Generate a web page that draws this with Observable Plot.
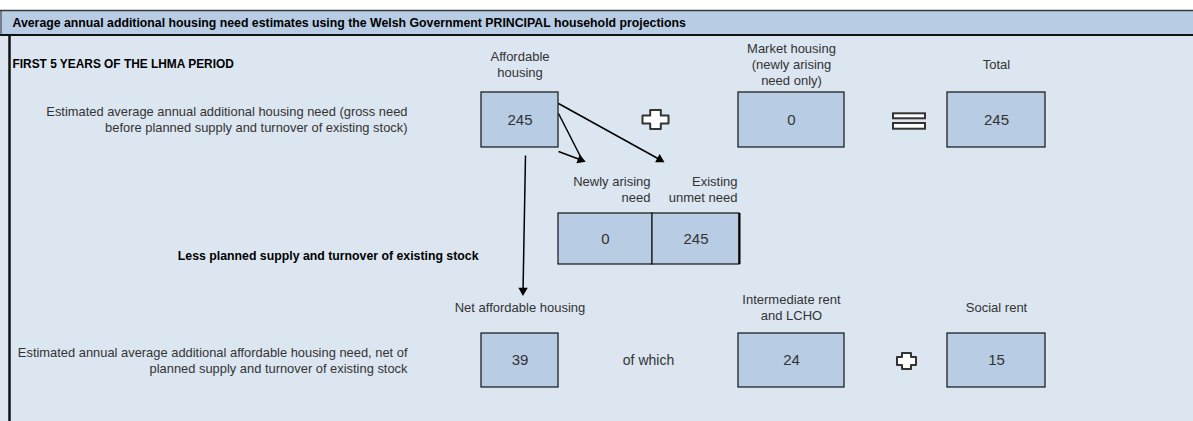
<!DOCTYPE html>
<html><head><meta charset="utf-8">
<script src="https://cdn.jsdelivr.net/npm/d3@7"></script>
<script src="https://cdn.jsdelivr.net/npm/@observablehq/plot@0.6"></script>
<style>html,body{margin:0;padding:0;background:#fff;overflow:hidden;} svg{display:block;}</style>
</head><body><div id="chart"></div>
<script>
// ---- data ----
const title = "Average annual additional housing need estimates using the Welsh Government PRINCIPAL household projections";
const periodLabel = "FIRST 5 YEARS OF THE LHMA PERIOD";
const grossCategories = ["Affordable\nhousing", "Market housing\n(newly arising\nneed only)", "Total"];
const grossValues = [245, 0, 245];
const splitCategories = ["Newly arising\nneed", "Existing\nunmet need"];
const splitValues = [0, 245];
const netCategories = ["Net affordable housing", "Intermediate rent\nand LCHO", "Social rent"];
const netValues = [39, 24, 15];
const rowLabels = [
  "Estimated average annual additional housing need (gross need\nbefore planned supply and turnover of existing stock)",
  "Estimated annual average additional affordable housing need, net of\nplanned supply and turnover of existing stock"
];
const lessLabel = "Less planned supply and turnover of existing stock";
const ofWhichLabel = "of which";

// ---- layout (diagram units) ----
const W = 1193, H = 421;
const cols = [[481, 558], [738, 844], [947, 1045]];
const splitCols = [[558, 652], [652, 739]];
const rowGross = [92, 147], rowSplit = [213, 264], rowNet = [333, 387];
const FONT = "Liberation Sans, Arial, sans-serif";
const boxFill = "#b8cce4", bodyFill = "#dce6f1", ink = "#333";

const gross = grossCategories.map((c, i) => ({c, v: grossValues[i], x1: cols[i][0], x2: cols[i][1]}));
const net = netCategories.map((c, i) => ({c, v: netValues[i], x1: cols[i][0], x2: cols[i][1]}));
const split = splitCategories.map((c, i) => ({c, v: splitValues[i], x1: splitCols[i][0], x2: splitCols[i][1]}));

function plus(id, cx, cy, hw, hh, tw, th) {
  const p = [[-tw,-hh],[tw,-hh],[tw,-th],[hw,-th],[hw,th],[tw,th],[tw,hh],[-tw,hh],[-tw,th],[-hw,th],[-hw,-th],[-tw,-th],[-tw,-hh]];
  return p.map(([dx, dy]) => ({id, x: cx + dx, y: cy + dy}));
}
const plusPts = [...plus("a", 655, 119, 13, 9.5, 5.3, 4), ...plus("b", 906, 360.5, 9.5, 8, 4.5, 4)];

const arrowLines = [
  {x1: 558, y1: 103, x2: 661, y2: 160},
  {x1: 558, y1: 113, x2: 582, y2: 160},
  {x1: 558, y1: 151, x2: 582, y2: 160},
  {x1: 525, y1: 155, x2: 522.5, y2: 292}
];
const heads = [arrowLines[0], arrowLines[2], arrowLines[3]].map(a => {
  const dx = a.x2 - a.x1, dy = a.y2 - a.y1, L = Math.hypot(dx, dy);
  return {x: a.x2 - dx / L * 2, y: a.y2 - dy / L * 2, r: Math.atan2(dx, -dy) * 180 / Math.PI};
});

const LH = 1.23;
const chart = Plot.plot({
  width: W, height: H,
  margin: 0,
  x: {domain: [0, W], range: [0, W], axis: null},
  y: {domain: [0, H], range: [0, H], axis: null},
  style: {background: "#fff", fontFamily: FONT},
  marks: [
    // panel
    Plot.rect([0], {x1: 0, x2: W, y1: 35, y2: H, fill: bodyFill}),
    Plot.rect([0], {x1: 0, x2: W, y1: 10, y2: 34, fill: boxFill}),
    Plot.ruleY([10], {stroke: "#3a3a3a", strokeWidth: 1.5}),
    Plot.ruleY([34.5], {stroke: "#111", strokeWidth: 2}),
    Plot.ruleX([0.5], {y1: 10, y2: 35, stroke: "#333", strokeWidth: 1}),
    Plot.ruleX([9], {y1: 35, y2: H, stroke: "#111", strokeWidth: 2.5}),
    Plot.text([title], {x: 12, y: 22.5, text: d => d, textAnchor: "start", fontSize: 12.3, fontWeight: "bold", fill: "#000"}),
    Plot.text([periodLabel], {x: 12, y: 64, text: d => d, textAnchor: "start", fontSize: 11.9, fontWeight: "bold", fill: "#000"}),
    // row labels
    Plot.text(rowLabels, {x: 407, y: (d, i) => i === 0 ? 118.5 : 359.5, text: d => d, textAnchor: "end", fontSize: 12.9, lineHeight: LH, fill: ink}),
    Plot.text([lessLabel], {x: 478, y: 256, text: d => d, textAnchor: "end", fontSize: 12.3, fontWeight: "bold", fill: "#000"}),
    Plot.text([ofWhichLabel], {x: 648, y: 360.5, text: d => d, fontSize: 14, fill: ink}),
    // gross row
    Plot.rect(gross, {x1: "x1", x2: "x2", y1: rowGross[0], y2: rowGross[1], fill: boxFill, stroke: "#111", strokeWidth: 1.2}),
    Plot.text(gross, {x: d => (d.x1 + d.x2) / 2, y: (rowGross[0] + rowGross[1]) / 2, text: d => String(d.v), fontSize: 15, fill: ink}),
    Plot.text(gross, {x: d => (d.x1 + d.x2) / 2, y: 63, text: "c", fontSize: 13, lineHeight: LH, fill: ink}),
    // split row
    Plot.rect(split, {x1: "x1", x2: "x2", y1: rowSplit[0], y2: rowSplit[1], fill: boxFill, stroke: "#111", strokeWidth: 1.2}),
    Plot.ruleX([739], {y1: rowSplit[0], y2: rowSplit[1], stroke: "#000", strokeWidth: 2}),
    Plot.text(split, {x: d => (d.x1 + d.x2) / 2, y: (rowSplit[0] + rowSplit[1]) / 2, text: d => String(d.v), fontSize: 15, fill: ink}),
    Plot.text(split, {x: d => d.x2 - 2, y: 188, text: "c", textAnchor: "end", fontSize: 13, lineHeight: LH, fill: ink}),
    // net row
    Plot.rect(net, {x1: "x1", x2: "x2", y1: rowNet[0], y2: rowNet[1], fill: boxFill, stroke: "#111", strokeWidth: 1.2}),
    Plot.text(net, {x: d => (d.x1 + d.x2) / 2, y: (rowNet[0] + rowNet[1]) / 2, text: d => String(d.v), fontSize: 15, fill: ink}),
    Plot.text(net, {x: d => (d.x1 + d.x2) / 2, y: 306.5, text: "c", fontSize: 13, lineHeight: LH, fill: ink}),
    // operators
    Plot.line(plusPts, {x: "x", y: "y", z: "id", fill: "#fff", stroke: "#333", strokeWidth: 2, curve: "linear"}),
    Plot.rect([[113.3, 118.3], [123, 128.7]], {x1: 893, x2: 925, y1: d => d[0], y2: d => d[1], fill: "#fff", stroke: "#333", strokeWidth: 2}),
    // arrows
    Plot.link(arrowLines, {x1: "x1", y1: "y1", x2: "x2", y2: "y2", stroke: "#000", strokeWidth: 1.5}),
    Plot.dot(heads, {x: "x", y: "y", symbol: "triangle", r: 3.5, rotate: "r", fill: "#000", stroke: "none"})
  ]
});
document.getElementById("chart").append(chart);
</script>
</body></html>
